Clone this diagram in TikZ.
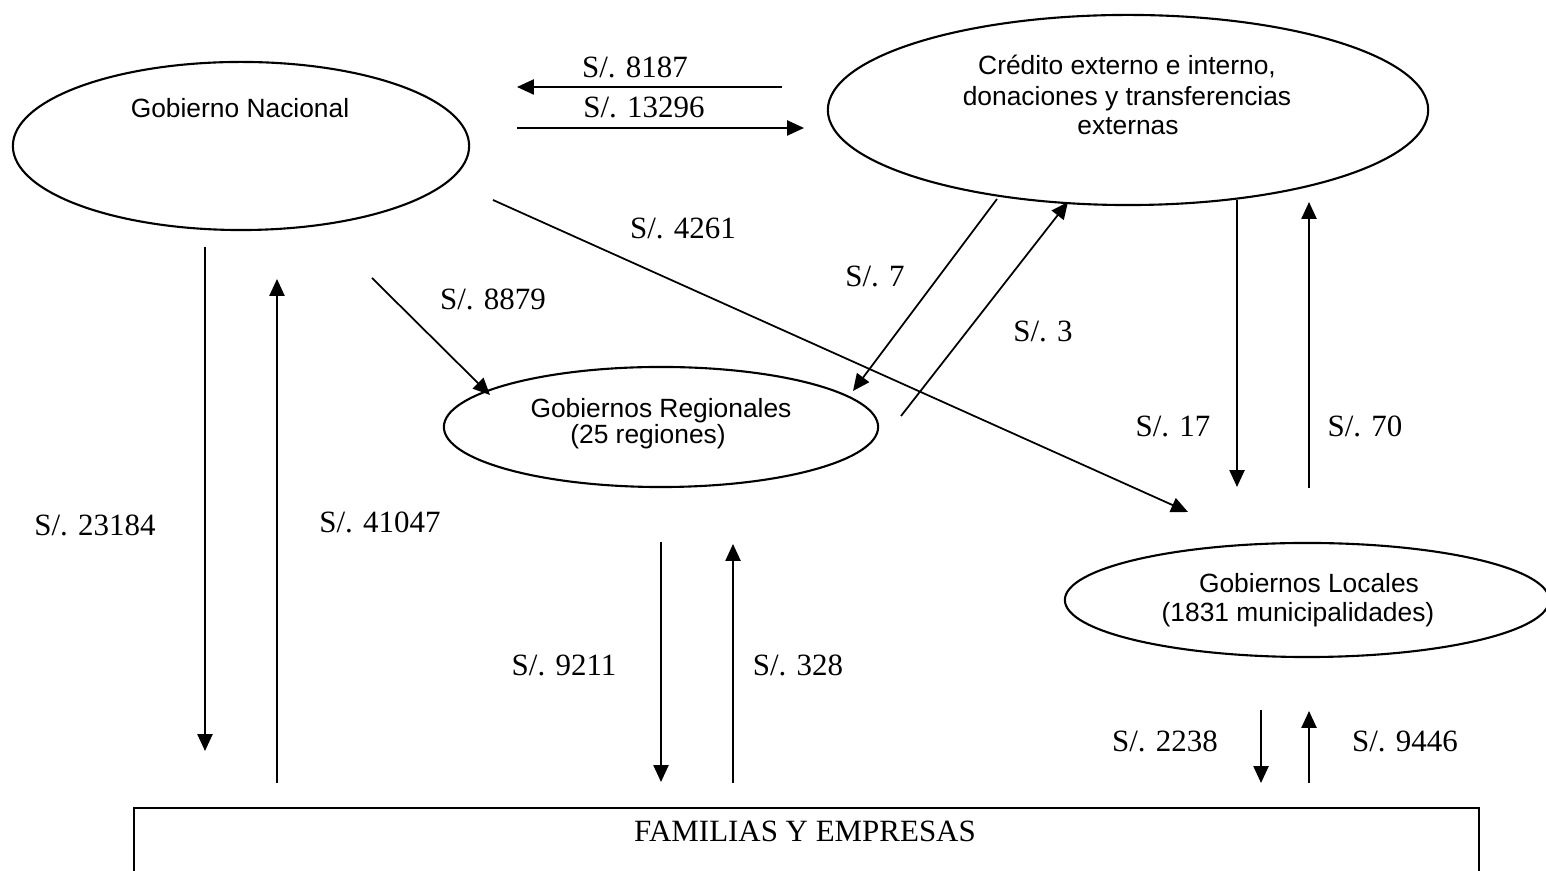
\documentclass[tikz,border=0pt]{standalone}
\usepackage{fontspec}
\setmainfont{Liberation Serif}
\newfontfamily\arialf{Liberation Sans}
\usetikzlibrary{shapes.geometric,arrows.meta}
\begin{document}
\begin{tikzpicture}[x=0.01cm,y=-0.01cm,
  ell/.style={draw,ellipse,line width=0.6pt,inner sep=0pt},
  flow/.style={line width=0.5pt,-{Triangle[length=4.8pt,width=4.3pt]}},
  amt/.style={font=\fontsize{8.8}{10}\selectfont,inner sep=0pt,anchor=base},
  lbl/.style={font=\arialf\fontsize{7.5}{9}\selectfont,inner sep=0pt,anchor=base}]
\useasboundingbox (0,0) rectangle (1546,871);
\clip (0,0) rectangle (1546,871);

% ellipses and box
\node[ell,minimum width=4.56cm,minimum height=1.68cm] (gn) at (241,146) {};
\node[lbl] (gnt) at (240,118) {Gobierno Nacional};
\node[ell,minimum width=6.00cm,minimum height=1.90cm] (cr) at (1128,110) {};
\node[lbl] (crt1) at (1127,75) {Crédito externo e interno,};
\node[lbl] (crt2) at (1127,106) {donaciones y transferencias};
\node[lbl] (crt3) at (1128,135) {externas};
\node[ell,minimum width=4.34cm,minimum height=1.20cm] (gr) at (661,427) {};
\node[lbl] (grt1) at (661,418) {Gobiernos Regionales};
\node[lbl] (grt2) at (648,444) {(25 regiones)};
\node[ell,minimum width=4.84cm,minimum height=1.14cm] (gl) at (1307,600) {};
\node[lbl] (glt1) at (1309,593) {Gobiernos Locales};
\node[lbl] (glt2) at (1298,622) {(1831 municipalidades)};
\node[draw,line width=0.6pt,minimum width=13.44cm,minimum height=1.0cm,anchor=north west,inner sep=0pt] (fe) at (133,807) {};
\node[amt] (fet) at (805,842) {FAMILIAS Y EMPRESAS};

% connector end points
\coordinate (a1s) at (782,87);   \coordinate (a1e) at (517,87);
\coordinate (a2s) at (517,128);  \coordinate (a2e) at (804,128);
\coordinate (a3s) at (493,200);  \coordinate (a3e) at (1188,512);
\coordinate (a4s) at (372,278);  \coordinate (a4e) at (490,395);
\coordinate (a5s) at (997,199);  \coordinate (a5e) at (853,391);
\coordinate (a6s) at (901,416);  \coordinate (a6e) at (1068,202);
\coordinate (a7s) at (1237,200); \coordinate (a7e) at (1237,487);
\coordinate (a8s) at (1309,488); \coordinate (a8e) at (1309,202);
\coordinate (a9s) at (205,247);  \coordinate (a9e) at (205,751);
\coordinate (b1s) at (277,783);  \coordinate (b1e) at (277,279);
\coordinate (b2s) at (661,542);  \coordinate (b2e) at (661,782);
\coordinate (b3s) at (733,783);  \coordinate (b3e) at (733,544);
\coordinate (b4s) at (1261,710); \coordinate (b4e) at (1261,783);
\coordinate (b5s) at (1309,783); \coordinate (b5e) at (1309,711);

\draw[flow] (a1s) -- (a1e);
\draw[flow] (a2s) -- (a2e);
\draw[flow] (a3s) -- (a3e);
\draw[flow] (a4s) -- (a4e);
\draw[flow] (a5s) -- (a5e);
\draw[flow] (a6s) -- (a6e);
\draw[flow] (a7s) -- (a7e);
\draw[flow] (a8s) -- (a8e);
\draw[flow] (a9s) -- (a9e);
\draw[flow] (b1s) -- (b1e);
\draw[flow] (b2s) -- (b2e);
\draw[flow] (b3s) -- (b3e);
\draw[flow] (b4s) -- (b4e);
\draw[flow] (b5s) -- (b5e);

% amounts
\node[amt] (l1) at (635,78) {S/. 8187};
\node[amt] (l2) at (644,118) {S/. 13296};
\node[amt] (l3) at (683,239) {S/. 4261};
\node[amt] (l4) at (493,310) {S/. 8879};
\node[amt] (l5) at (875,287) {S/. 7};
\node[amt] (l6) at (1043,342) {S/. 3};
\node[amt] (l7) at (1173,437) {S/. 17};
\node[amt] (l8) at (1365,437) {S/. 70};
\node[amt] (l9) at (95,536) {S/. 23184};
\node[amt] (m1) at (380,533) {S/. 41047};
\node[amt] (m2) at (564,676) {S/. 9211};
\node[amt] (m3) at (798,676) {S/. 328};
\node[amt] (m4) at (1165,752) {S/. 2238};
\node[amt] (m5) at (1405,752) {S/. 9446};
\end{tikzpicture}
\end{document}
